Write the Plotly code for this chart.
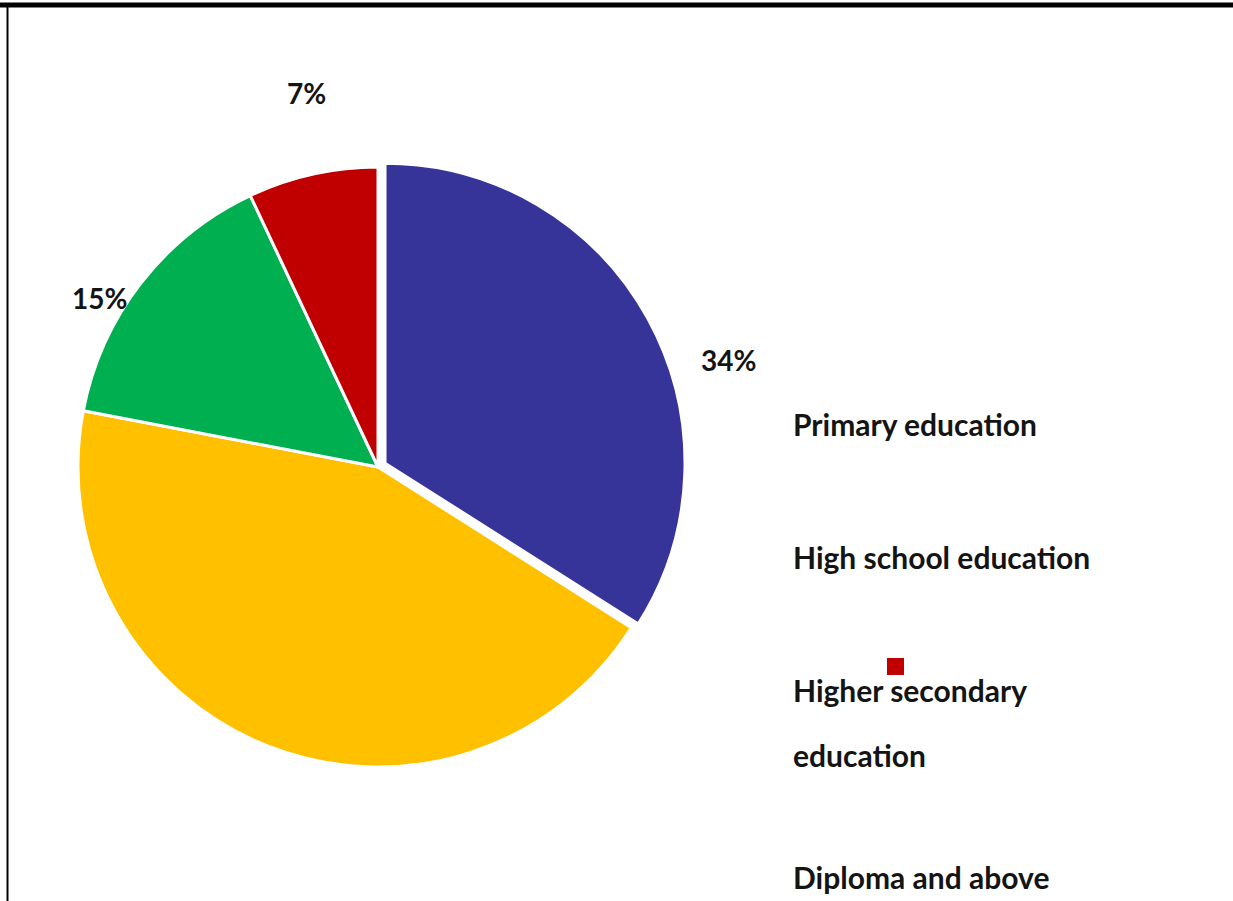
import plotly.graph_objects as go

# ---- data ----
categories = ["Primary education", "High school education",
              "Higher secondary education", "Diploma and above"]
values = [34, 44, 15, 7]
slice_colors = ["#363499", "#FFC000", "#00B050", "#C00000"]
# which slices show a percentage label in the reference (yellow one has none)
label_shown = [True, False, True, True]
legend_labels = ["Primary education", "High school education",
                 "Higher secondary<br>education", "Diploma and above"]

W, H = 1233, 901

def px(x):
    return x / W

def py(y):
    return 1 - y / H

fig = go.Figure()

# pie: centre ~ (378, 467), radius ~300 px
cx, cy, r = 378, 467, 300
pull_px = 8
half = r + pull_px
fig.add_trace(go.Pie(
    labels=categories,
    values=values,
    sort=False,
    direction="clockwise",
    rotation=0,
    pull=[pull_px / r, 0, 0, 0],
    marker=dict(colors=slice_colors, line=dict(color="white", width=3)),
    textinfo="none",
    hoverinfo="label+percent",
    showlegend=False,
    domain=dict(x=[px(cx - half), px(cx + half)],
                y=[py(cy + half), py(cy - half)]),
))

# percentage labels (positions as in reference)
label_pos = [(728, 360), None, (99, 298), (306, 93)]
annotations = []
for v, shown, pos in zip(values, label_shown, label_pos):
    if shown and pos is not None:
        annotations.append(dict(
            x=px(pos[0]), y=py(pos[1]), xref="paper", yref="paper",
            text=f"{v}%", showarrow=False, xanchor="center", yanchor="middle",
            font=dict(family="Lato", size=28, color="#141414", weight="bold"),
        ))

# legend texts (markers absent in reference except a stray red square)
legend_y = [424, 557, 690, 877]
for lab, y0 in zip(legend_labels, legend_y):
    for i, line in enumerate(lab.split("<br>")):
        annotations.append(dict(
            x=px(791), y=py(y0 + i * 65), xref="paper", yref="paper",
            text=line, showarrow=False, xanchor="left", yanchor="middle",
            font=dict(family="Lato", size=30, color="#141414", weight="bold"),
        ))

shapes = [
    # stray red legend marker
    dict(type="rect", xref="paper", yref="paper",
         x0=px(887), x1=px(904), y0=py(675), y1=py(658),
         fillcolor=slice_colors[3], line=dict(width=0)),
    # top border
    dict(type="line", xref="paper", yref="paper",
         x0=0, x1=1, y0=py(5), y1=py(5),
         line=dict(color="black", width=5)),
    # left border
    dict(type="line", xref="paper", yref="paper",
         x0=px(7.5), x1=px(7.5), y0=0, y1=py(5),
         line=dict(color="black", width=2)),
]

fig.update_layout(
    width=W, height=H,
    margin=dict(l=0, r=0, t=0, b=0),
    paper_bgcolor="white", plot_bgcolor="white",
    annotations=annotations,
    shapes=shapes,
    showlegend=False,
)

fig.write_html(
    "out.html",
    config={"displayModeBar": False},
    post_script="document.body.style.margin='0';document.body.style.overflow='hidden';",
)
